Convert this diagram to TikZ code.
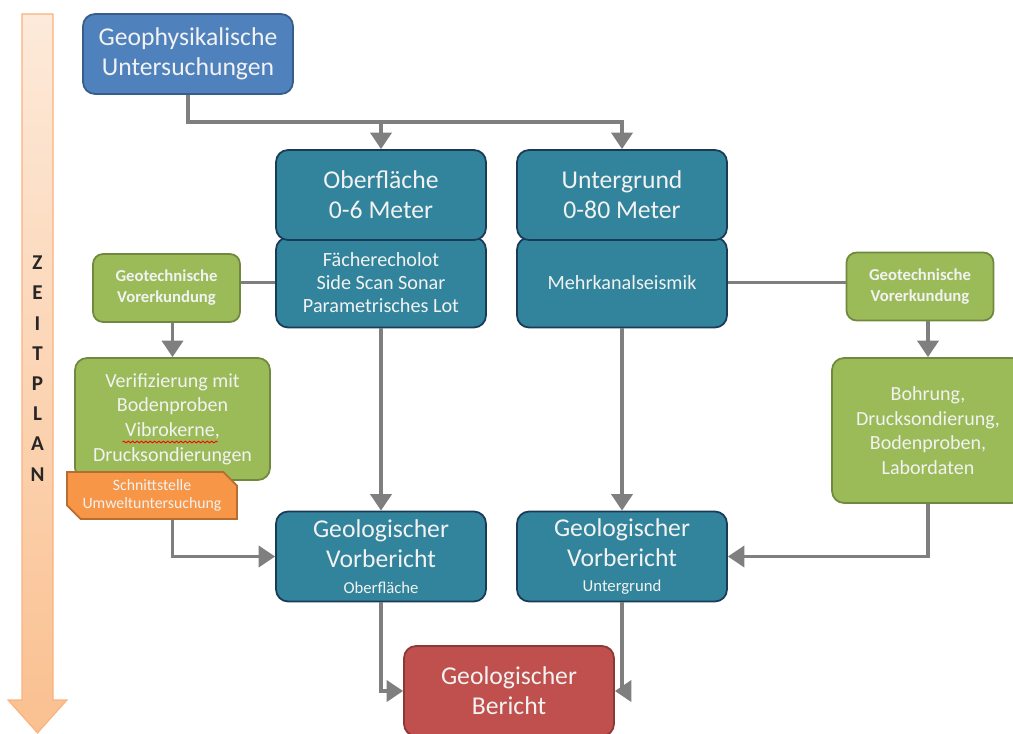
\documentclass[tikz,border=0pt]{standalone}
\usepackage{fontspec}
\setmainfont{Carlito}
\usepackage{tikz, xcolor}
\usetikzlibrary{shapes,arrows.meta,decorations.pathmorphing}

\definecolor{geoblue}{HTML}{4F81BD}
\definecolor{geobluedark}{HTML}{385D8A}
\definecolor{geoteal}{HTML}{31849B}
\definecolor{geotealdark}{HTML}{1B3A57}
\definecolor{geogreen}{HTML}{9BBB59}
\definecolor{geogreendark}{HTML}{71893F}
\definecolor{geoorange}{HTML}{F79646}
\definecolor{geoorangedark}{HTML}{B66D31}
\definecolor{geored}{HTML}{C0504D}
\definecolor{georeddark}{HTML}{8C3836}
\definecolor{geogray}{HTML}{7F7F7F}
\definecolor{geotext}{HTML}{F2F2F2}
\definecolor{zeitlight}{HTML}{FDEADA}
\definecolor{zeitdark}{HTML}{FAC090}
\definecolor{zeitborder}{HTML}{F9B27F}

\newcommand{\bigtxt}{\fontsize{14.6}{17}\selectfont}
\newcommand{\midtxt}{\fontsize{11.5}{13}\selectfont}
\newcommand{\verifytxt}{\fontsize{11.4}{14}\selectfont}
\newcommand{\gttxt}{\fontsize{9.5}{12}\selectfont\bfseries}
\newcommand{\oratxt}{\fontsize{9}{10.2}\selectfont}
\newcommand{\subtxt}{\fontsize{9.5}{11}\selectfont}
\newcommand{\zeittxt}{\fontsize{12}{17.2}\selectfont\bfseries}

\begin{document}
\begin{tikzpicture}[x=0.02cm, y=-0.02cm]
\tikzstyle{boxbase}=[rectangle, rounded corners=0.24cm, line width=1pt, text=geotext, align=center, inner sep=2pt]
\tikzstyle{boxblue}=[boxbase, fill=geoblue, draw=geobluedark, minimum width=4.2cm, minimum height=1.6cm]
\tikzstyle{boxteal}=[boxbase, fill=geoteal, draw=geotealdark, minimum width=4.2cm, minimum height=1.8cm]
\tikzstyle{boxgreen}=[boxbase, fill=geogreen, draw=geogreendark]
\tikzstyle{boxgt}=[boxgreen, rounded corners=0.2cm, minimum width=2.94cm, minimum height=1.36cm, font=\gttxt]
\tikzstyle{boxorange}=[chamfered rectangle, chamfered rectangle corners={north east, south west}, chamfered rectangle xsep=0.16cm, line width=1pt, fill=geoorange, draw=geoorangedark, text=geotext, align=center, inner sep=1pt, minimum width=3.4cm, minimum height=0.94cm, font=\oratxt]
\tikzstyle{boxred}=[boxbase, fill=geored, draw=georeddark, minimum width=4.2cm, minimum height=1.8cm]
\tikzstyle{linestyle}=[draw=geogray, line width=2.1pt]
\tikzstyle{drawstyle}=[linestyle, -{Triangle[width=0.42cm, length=0.33cm]}]

\useasboundingbox (0,0) rectangle (1013,733);

\path[draw=zeitborder, line width=0.6pt, top color=zeitlight, bottom color=zeitdark]
  (22,14) -- (53,14) -- (53,700) -- (67,700) -- (37.5,733) -- (8,700) -- (22,700) -- cycle;
\node[font=\zeittxt, text=black!85, align=center] (zeit) at (37.5,368.5) {Z\\E\\I\\T\\P\\L\\A\\N};

\node[boxblue, font=\bigtxt] (geo) at (188,54) {Geophysikalische\\Untersuchungen};
\node[boxteal, font=\midtxt] (oberlist) at (381,282.5) {Fächerecholot\\Side Scan Sonar\\Parametrisches Lot};
\node[boxteal, font=\bigtxt] (ober) at (381,195) {Oberfläche\\0-6 Meter};
\node[boxteal, font=\midtxt] (unterlist) at (622,282.5) {Mehrkanalseismik};
\node[boxteal, font=\bigtxt] (unter) at (622,195) {Untergrund\\0-80 Meter};
\node[boxgt] (gtleft) at (166.5,288) {Geotechnische\\Vorerkundung};
\node[boxgt] (gtright) at (920,286.5) {Geotechnische\\Vorerkundung};
\node[boxgreen, minimum width=3.9cm, minimum height=2.44cm, font=\verifytxt] (verif) at (172.5,419) {Verifizierung mit\\Bodenproben\\Vibrokerne,\\Drucksondierungen};
\node[boxorange] (schnitt) at (152,495.5) {Schnittstelle\\Umweltuntersuchung};
\node[boxgreen, minimum width=3.84cm, minimum height=2.9cm, font=\verifytxt] (bohr) at (928,430.5) {Bohrung,\\Drucksondierung,\\Bodenproben,\\Labordaten};
\node[boxteal, font=\bigtxt] (vobe) at (381,556.5) {Geologischer\\Vorbericht\\[-2.5pt]{\subtxt Oberfläche}};
\node[boxteal, font=\bigtxt] (vunt) at (622,556.5) {Geologischer\\Vorbericht\\[-2.5pt]{\subtxt Untergrund}};
\node[boxred, font=\bigtxt] (bericht) at (509,691) {Geologischer\\Bericht};

\draw[red, line width=0.5pt, decorate, decoration={snake, amplitude=0.5pt, segment length=2.5pt}]
  ([shift={(-50,23)}]verif.center) -- ([shift={(45,23)}]verif.center);

\coordinate (split) at (381,122);
\draw[drawstyle] (geo.south) |- (unter.north |- split) -- (unter.north);
\draw[drawstyle] (ober.north |- split) -- (ober.north);
\draw[linestyle] (oberlist.west) -- (gtleft.east |- oberlist.west);
\draw[linestyle] (unterlist.east) -- (gtright.west |- unterlist.east);
\draw[drawstyle] (verif.north |- gtleft.south) -- (verif.north);
\draw[drawstyle] (bohr.north |- gtright.south) -- (bohr.north);
\draw[drawstyle] (oberlist.south) -- (vobe.north);
\draw[drawstyle] (unterlist.south) -- (vunt.north);
\draw[drawstyle] (verif.south |- schnitt.south) |- (vobe.west);
\draw[drawstyle] (bohr.south) |- (vunt.east);
\draw[drawstyle] (vobe.south) |- (bericht.west);
\draw[drawstyle] (vunt.south) |- (bericht.east);
\end{tikzpicture}
\end{document}
